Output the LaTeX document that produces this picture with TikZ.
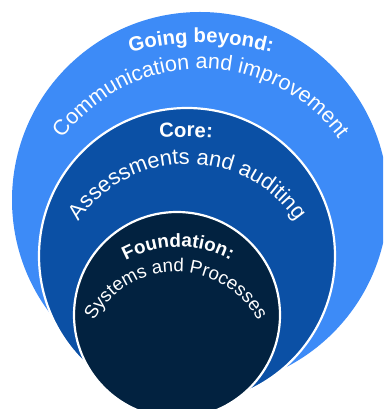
\documentclass[tikz,border=0pt]{standalone}
\usepackage{fontspec}
\setmainfont{Liberation Sans}
\usepackage{xcolor}
\usepackage{tikz}
\usetikzlibrary{decorations.text}
\definecolor{ringlight}{HTML}{3D8BF7}
\definecolor{ringmid}{HTML}{0B50A5}
\definecolor{ringdark}{HTML}{022240}
\newcommand{\headfont}{\bfseries\fontsize{20.3}{24}\selectfont}
\newcommand{\smallheadfont}{\bfseries\fontsize{18.9}{24}\selectfont}
\newcommand{\bodyfont}{\fontsize{21.5}{24}\selectfont}
\newcommand{\midbodyfont}{\fontsize{21.9}{24}\selectfont}
\newcommand{\smallbodyfont}{\fontsize{18.7}{24}\selectfont}

\begin{document}
\begin{tikzpicture}[x=1pt, y=1pt,
    ring/.style={draw=white, line width=2.2pt},
    arctext/.style={decorate, decoration={text along path, text align=center, text color=white, text={#1}}}]
  \useasboundingbox (0,0) rectangle (383,409);
  \clip (0,0) rectangle (383,409);
  \coordinate (outer) at (200,209);
  \coordinate (middle) at (187,153);
  \coordinate (inner) at (177,94);
  \fill[ringlight] (outer) circle (188);
  \filldraw[ring, fill=ringmid] (middle) circle (148);
  \filldraw[ring, fill=ringdark] (inner) circle (103);
  % labels on the rings
  \coordinate (goingc) at (201,106);
  \coordinate (commc) at (201,168.5);
  \coordinate (corec) at (186,-128);
  \coordinate (assessc) at (187.5,113);
  \coordinate (foundc) at (178,52);
  \coordinate (systemc) at (176,44);
  \path[arctext={|\headfont|Going beyond:}] (goingc) ++(150:260) arc[start angle=150, end angle=30, radius=260];
  \path[arctext={|\bodyfont|Communication and improvement}] (commc) ++(170:171.5) arc[start angle=170, end angle=10, radius=171.5];
  \path[arctext={|\headfont|Core:}] (corec) ++(110:400) arc[start angle=110, end angle=70, radius=400];
  \path[arctext={|\midbodyfont|Assessments and auditing}] (assessc) ++(170:132) arc[start angle=170, end angle=10, radius=132];
  \path[arctext={|\smallheadfont|Foundation:}] (foundc) ++(160:110) arc[start angle=160, end angle=20, radius=110];
  \path[arctext={|\smallbodyfont|Systems and Processes}] (systemc) ++(175:93) arc[start angle=175, end angle=5, radius=93];
\end{tikzpicture}
\end{document}
